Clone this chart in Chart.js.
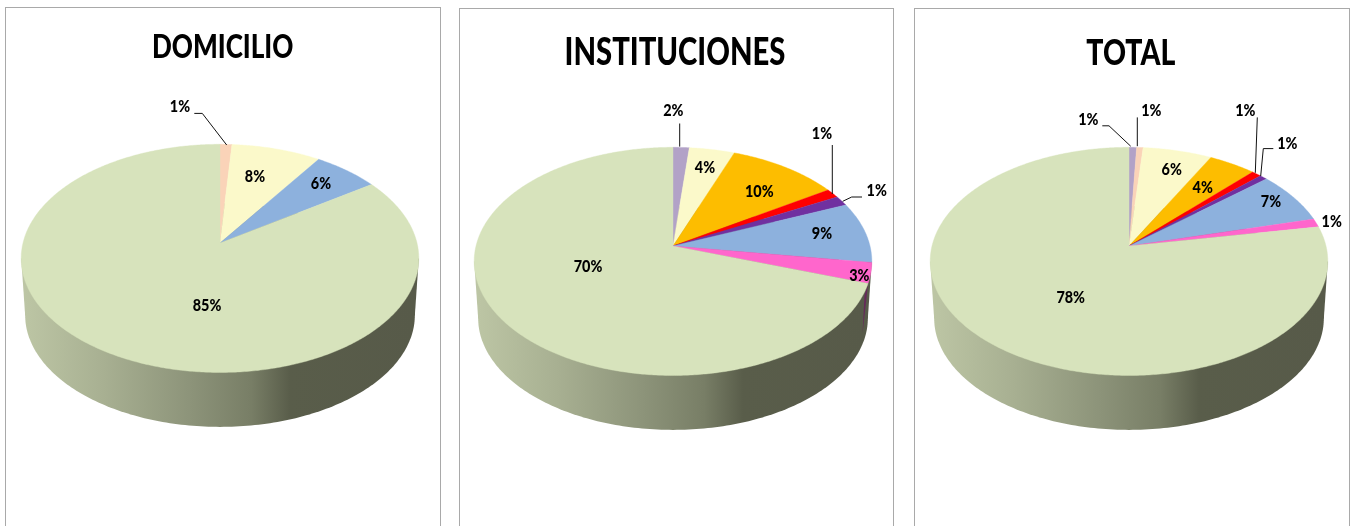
<!DOCTYPE html>
<html>
<head>
<meta charset="utf-8">
<script src="https://cdn.jsdelivr.net/npm/chart.js@4"></script>
<style>
html,body{margin:0;padding:0;background:#fff;overflow:hidden}
#stage{position:relative;width:1355px;height:526px;overflow:hidden}
.frame{position:absolute;box-sizing:border-box;border:1.5px solid #a9a9a9;border-bottom:none}
canvas{position:absolute;top:0}
</style>
</head>
<body>
<div id="stage">
  <div class="frame" style="left:5px;top:7px;width:436px;height:519px"></div>
  <div class="frame" style="left:459px;top:8px;width:435px;height:518px"></div>
  <div class="frame" style="left:914px;top:8px;width:436px;height:518px"></div>
</div>
<script>
// ---- data (slices run clockwise from 12 o'clock) ----
const titles = ['DOMICILIO', 'INSTITUCIONES', 'TOTAL'];

const domicilioCategories = ['Peach', 'Yellow', 'Blue', 'Green'];
const domicilioValues = [1.1, 8.3, 6.1, 84.5];

const institucionesCategories = ['Lilac', 'Yellow', 'Orange', 'Red', 'Purple', 'Blue', 'Pink', 'Green'];
const institucionesValues = [1.5, 4.2, 10.3, 1.3, 1.4, 8.6, 2.9, 69.8];

const totalCategories = ['Lilac', 'Peach', 'Yellow', 'Orange', 'Red', 'Purple', 'Blue', 'Pink', 'Green'];
const totalValues = [0.7, 0.6, 6.4, 4.4, 0.9, 0.7, 7.3, 1.2, 77.8];

// ---- styles ----
const sliceColors = {
  Peach: '#fad3b8', Yellow: '#fbf9ca', Blue: '#8db1dd', Green: '#d7e3bc',
  Lilac: '#b2a2c7', Orange: '#fdbd00', Red: '#ff0000', Purple: '#7030a0', Pink: '#ff66cc'
};
const TILT_P = 0.135;      // perspective of the pie plate
const FACE_SY = 112;       // vertical half-size of the plate
const FACE_R = 197;        // horizontal size of the plate
const DEPTH = 57;          // plate thickness
const FLOOR_SCALE = 0.98;  // lower rim is slightly narrower
const FONT = 'Lato, Carlito, Calibri, sans-serif';
const TITLE_SQUEEZE = 0.79, LABEL_SQUEEZE = 0.9;

// ---- per-panel layout ----
const panels = [
  { categories: domicilioCategories, values: domicilioValues, title: titles[0], titleSize: 33,
    apexX: 220, apexY: 243, titleMid: 47.5, titleX: 222.7,
    labels: [[180,107],[255,177],[321,184],[207,306]],
    leaders: [[[194.3,113.4],[202.3,113.4],[226.7,145]]] },
  { categories: institucionesCategories, values: institucionesValues, title: titles[1], titleSize: 37,
    apexX: 673, apexY: 246, titleMid: 53, titleX: 675,
    labels: [[673.3,111],[705,168],[759.3,191.5],[822,134],[876.7,191],[822,234],[859.3,276],[588,266.7]],
    leaders: [[[679.7,123.5],[679.7,146.6]],[[832.3,145],[832.3,194]],[[862,197],[851.7,197],[842.7,201.3]]],
    sliver: 'Pink' },
  { categories: totalCategories, values: totalValues, title: titles[2], titleSize: 36,
    apexX: 1129, apexY: 246, titleMid: 53, titleX: 1130.8,
    labels: [[1088.3,120],[1151.3,111],[1171.7,170],[1202.7,188],[1245.3,111],[1287.3,144],[1271,201.6],[1331.7,222],[1070.7,297.6]],
    leaders: [[[1102.3,125.8],[1109,125.8],[1130.7,146.2]],[[1137.3,117.4],[1137.3,146.2]],[[1257.3,117.4],[1255.3,172.8]],[[1273.3,148.6],[1263.3,148.6],[1260.7,176]]] }
];

// Perspective map: chart angle -> point on the tilted plate, apex stays at (x,y).
function plate(el, angle, scale, dy) {
  const t = angle + Math.PI / 2, X = Math.sin(t), Y = Math.cos(t), w = 1 + TILT_P * Y;
  return [el.x + el.outerRadius * scale * X / w, el.y + (dy || 0) - FACE_SY * scale * Y / w];
}

function drawFlatSlice(ctx) {
  const steps = Math.max(2, Math.ceil((this.endAngle - this.startAngle) / 0.01));
  ctx.save();
  ctx.beginPath();
  ctx.moveTo(this.x, this.y);
  for (let i = 0; i <= steps; i++) {
    const a = this.startAngle + (this.endAngle - this.startAngle) * i / steps;
    const p = plate(this, a, 1);
    ctx.lineTo(p[0], p[1]);
  }
  ctx.closePath();
  ctx.fillStyle = this.options.backgroundColor;
  ctx.strokeStyle = this.options.backgroundColor;
  ctx.lineWidth = 0.4;
  ctx.fill();
  ctx.stroke();
  ctx.restore();
}

const plate3d = {
  id: 'plate3d',
  afterLayout(chart, args, opts) {
    // Narrow the title about its own centre, the way the reference's face is set.
    const block = chart.titleBlock, original = block.draw;
    const mid = opts.titleX;
    block.draw = function () {
      const ctx = this.ctx;
      ctx.save();
      ctx.translate(mid, 0);
      ctx.scale(TITLE_SQUEEZE, 1);
      ctx.translate(-chart.width / 2, 0);
      original.apply(this, arguments);
      ctx.restore();
    };
  },
  beforeDatasetsDraw(chart, args, opts) {
    const ctx = chart.ctx, arcs = chart.getDatasetMeta(0).data;
    const el = arcs[0];
    arcs.forEach(a => { a.draw = drawFlatSlice; });
    const rim = [];
    for (let i = 0; i < 360; i++) rim.push(plate(el, i * Math.PI / 180, FLOOR_SCALE, DEPTH));
    const xs = rim.map(p => p[0]);
    const left = Math.min.apply(null, xs), right = Math.max.apply(null, xs);
    const g = ctx.createLinearGradient(left, 0, right, 0);
    g.addColorStop(0, '#bcc5a4');
    g.addColorStop(0.2, '#a8b092');
    g.addColorStop(0.42, '#8d947a');
    g.addColorStop(0.58, '#787e66');
    g.addColorStop(0.68, '#595d4a');
    g.addColorStop(1, '#575a49');
    ctx.save();
    ctx.fillStyle = g;
    ctx.beginPath();
    rim.forEach((p, i) => i ? ctx.lineTo(p[0], p[1]) : ctx.moveTo(p[0], p[1]));
    ctx.closePath();
    ctx.fill();
    // joins the rim of the top face with the lower rim
    const midY = el.y + (FACE_SY * TILT_P / (1 - TILT_P * TILT_P));
    ctx.beginPath();
    ctx.moveTo(el.x - el.outerRadius * 1.009, midY);
    ctx.lineTo(el.x + el.outerRadius * 1.009, midY);
    ctx.lineTo(right, midY + DEPTH);
    ctx.lineTo(left, midY + DEPTH);
    ctx.closePath();
    ctx.fill();
    // coloured side of the slice that reaches past the widest point
    if (opts.sliver) {
      const idx = chart.data.labels.indexOf(opts.sliver);
      const a = plate(arcs[idx], arcs[idx].endAngle, 1);
      ctx.fillStyle = '#66295a';
      ctx.beginPath();
      ctx.moveTo(a[0], a[1]);
      ctx.lineTo(a[0] - 5.5, a[1] + 50);
      ctx.lineTo(a[0] - 3.5, a[1] + 12);
      ctx.closePath();
      ctx.fill();
    }
    ctx.restore();
  },
  afterDatasetsDraw(chart, args, opts) {
    const ctx = chart.ctx, off = opts.canvasLeft;
    ctx.save();
    ctx.strokeStyle = '#111';
    ctx.lineWidth = 1;
    opts.leaders.forEach(line => {
      ctx.beginPath();
      line.forEach((p, i) => i ? ctx.lineTo(p[0] - off, p[1]) : ctx.moveTo(p[0] - off, p[1]));
      ctx.stroke();
    });
    ctx.fillStyle = '#000';
    ctx.font = '900 16px ' + FONT;
    ctx.textAlign = 'center';
    ctx.textBaseline = 'middle';
    chart.data.datasets[0].data.forEach((v, i) => {
      const pos = opts.labels[i];
      ctx.save();
      ctx.translate(pos[0] - off, pos[1]);
      ctx.scale(LABEL_SQUEEZE, 1);
      ctx.fillText(Math.round(v) + '%', 0, 0);
      ctx.restore();
    });
    ctx.restore();
  }
};

const CANVAS_W = 440, CANVAS_H = 526, TITLE_LH = 1.2;
panels.forEach(pn => {
  const c = document.createElement('canvas');
  c.width = CANVAS_W;
  c.height = CANVAS_H;
  c.style.width = CANVAS_W + 'px';
  c.style.height = CANVAS_H + 'px';
  const canvasLeft = pn.apexX - CANVAS_W / 2;
  c.style.left = canvasLeft + 'px';
  document.getElementById('stage').appendChild(c);
  const titleBox = pn.titleSize * TITLE_LH;
  const titleTop = pn.titleMid - titleBox / 2;
  const padBottom = titleTop + titleBox + CANVAS_H - 2 * pn.apexY;
  new Chart(c.getContext('2d'), {
    type: 'pie',
    data: {
      labels: pn.categories,
      datasets: [{
        data: pn.values,
        backgroundColor: pn.categories.map(k => sliceColors[k]),
        borderWidth: 0
      }]
    },
    options: {
      responsive: false,
      animation: false,
      radius: FACE_R,
      layout: { padding: { bottom: padBottom } },
      events: [],
      plugins: {
        legend: { display: false },
        tooltip: { enabled: false },
        title: {
          display: true,
          text: pn.title,
          color: '#000',
          font: { family: FONT, size: pn.titleSize, weight: '900', lineHeight: TITLE_LH },
          padding: { top: titleTop, bottom: 0 }
        },
        plate3d: {
          titleX: pn.titleX - canvasLeft,
          canvasLeft: canvasLeft,
          labels: pn.labels,
          leaders: pn.leaders,
          sliver: pn.sliver
        }
      }
    },
    plugins: [plate3d]
  });
});
</script>
</body>
</html>
